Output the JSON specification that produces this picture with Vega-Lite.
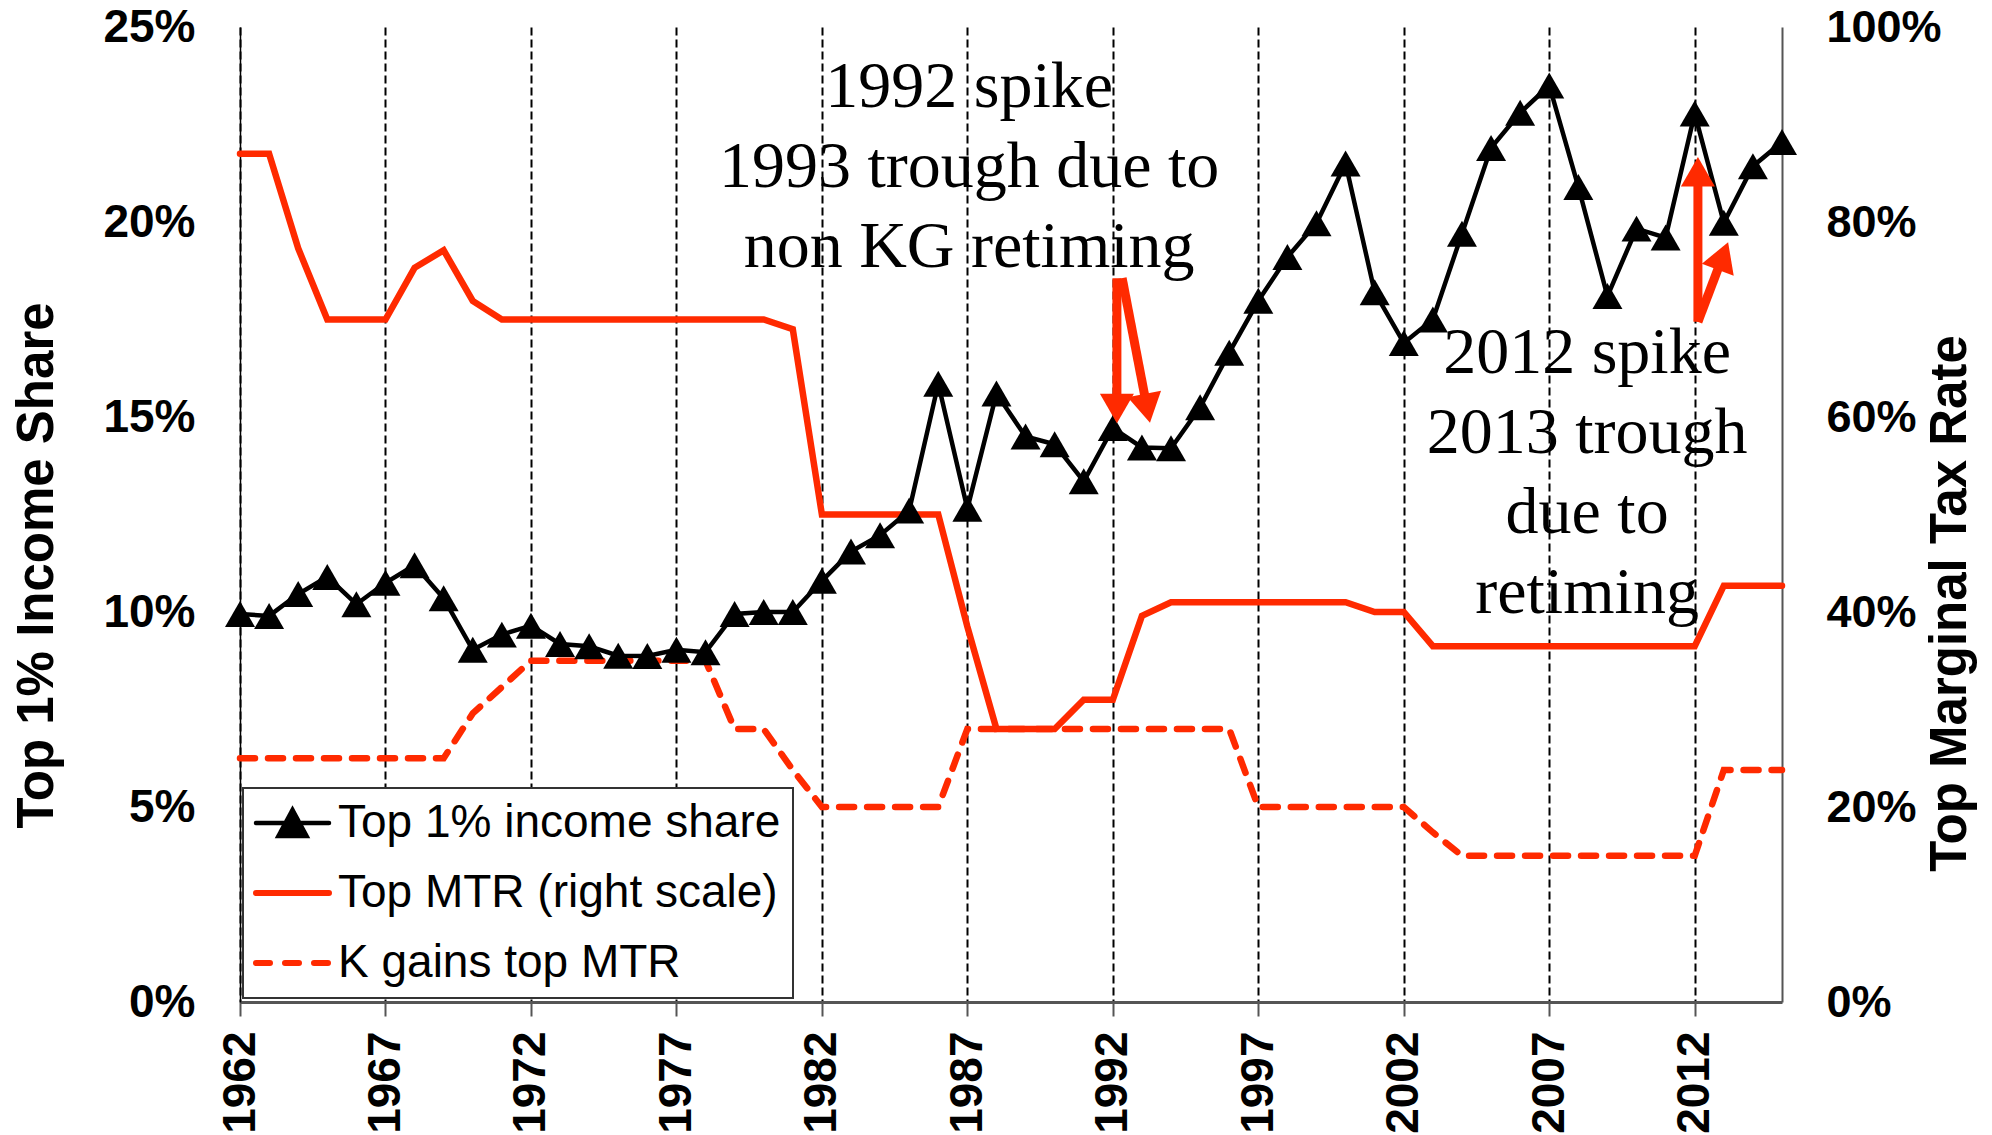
{
  "$schema": "https://vega.github.io/schema/vega-lite/v6.json",
  "width": 1542,
  "height": 975,
  "autosize": {"type": "none"},
  "padding": {"left": 240, "top": 27, "right": 210, "bottom": 133},
  "background": "white",
  "config": {
    "view": {"stroke": null},
    "font": "Liberation Sans",
    "axisBottom": {
      "labelAngle": 270, "labelAlign": "right", "labelBaseline": "middle",
      "labelFont": "Liberation Sans", "labelFontWeight": "bold", "labelFontSize": 46, "labelColor": "#000000",
      "labelPadding": 15, "labelFlush": false, "labelOverlap": false, "labelBound": false,
      "ticks": true, "tickSize": 14, "tickColor": "#555555", "tickWidth": 2,
      "domain": true, "domainColor": "#555555", "domainWidth": 3,
      "grid": true, "gridColor": "#000000", "gridDash": [8, 4], "gridWidth": 2
    },
    "axisLeft": {
      "labelFont": "Liberation Sans", "labelFontWeight": "bold", "labelFontSize": 46, "labelColor": "#000000",
      "labelPadding": 45, "labelFlush": false, "labelOverlap": false, "ticks": false,
      "domain": true, "domainColor": "#000000", "domainWidth": 1.5,
      "grid": true, "gridColor": "#333333", "gridDash": [2, 2], "gridWidth": 1,
      "titleFont": "Liberation Sans", "titleFontWeight": "bold", "titleFontSize": 51, "titleColor": "#000000",
      "titleAngle": 270, "titleAlign": "center", "titleBaseline": "middle", "titleX": -203, "titleY": 538
    },
    "axisRight": {
      "labelFont": "Liberation Sans", "labelFontWeight": "bold", "labelFontSize": 45, "labelColor": "#000000",
      "labelPadding": 44, "labelFlush": false, "labelOverlap": false, "ticks": false,
      "domain": true, "domainColor": "#555555", "domainWidth": 2, "grid": false,
      "titleFont": "Liberation Sans", "titleFontWeight": "bold", "titleFontSize": 51, "titleColor": "#000000",
      "titleAngle": 270, "titleAlign": "center", "titleBaseline": "middle", "titleX": 168, "titleY": 576
    }
  },
  "datasets": {
    "main": [
      {"year": 1962, "share": 9.95, "mtr": 87, "kg": 25},
      {"year": 1963, "share": 9.9, "mtr": 87, "kg": 25},
      {"year": 1964, "share": 10.46, "mtr": 77.3, "kg": 25},
      {"year": 1965, "share": 10.9, "mtr": 70, "kg": 25},
      {"year": 1966, "share": 10.2, "mtr": 70, "kg": 25},
      {"year": 1967, "share": 10.75, "mtr": 70, "kg": 25},
      {"year": 1968, "share": 11.2, "mtr": 75.3, "kg": 25},
      {"year": 1969, "share": 10.35, "mtr": 77.1, "kg": 25},
      {"year": 1970, "share": 9.03, "mtr": 71.9, "kg": 29.6},
      {"year": 1971, "share": 9.42, "mtr": 70, "kg": 32.3},
      {"year": 1972, "share": 9.65, "mtr": 70, "kg": 35},
      {"year": 1973, "share": 9.18, "mtr": 70, "kg": 35},
      {"year": 1974, "share": 9.12, "mtr": 70, "kg": 35},
      {"year": 1975, "share": 8.88, "mtr": 70, "kg": 35},
      {"year": 1976, "share": 8.87, "mtr": 70, "kg": 35},
      {"year": 1977, "share": 9.03, "mtr": 70, "kg": 35},
      {"year": 1978, "share": 8.97, "mtr": 70, "kg": 35},
      {"year": 1979, "share": 9.95, "mtr": 70, "kg": 28},
      {"year": 1980, "share": 10.0, "mtr": 70, "kg": 28},
      {"year": 1981, "share": 10.0, "mtr": 69, "kg": 23.8},
      {"year": 1982, "share": 10.8, "mtr": 50, "kg": 20},
      {"year": 1983, "share": 11.55, "mtr": 50, "kg": 20},
      {"year": 1984, "share": 11.97, "mtr": 50, "kg": 20},
      {"year": 1985, "share": 12.6, "mtr": 50, "kg": 20},
      {"year": 1986, "share": 15.85, "mtr": 50, "kg": 20},
      {"year": 1987, "share": 12.65, "mtr": 38.5, "kg": 28},
      {"year": 1988, "share": 15.6, "mtr": 28, "kg": 28},
      {"year": 1989, "share": 14.5, "mtr": 28, "kg": 28},
      {"year": 1990, "share": 14.3, "mtr": 28, "kg": 28},
      {"year": 1991, "share": 13.35, "mtr": 31, "kg": 28},
      {"year": 1992, "share": 14.72, "mtr": 31, "kg": 28},
      {"year": 1993, "share": 14.22, "mtr": 39.6, "kg": 28},
      {"year": 1994, "share": 14.2, "mtr": 41, "kg": 28},
      {"year": 1995, "share": 15.25, "mtr": 41, "kg": 28},
      {"year": 1996, "share": 16.65, "mtr": 41, "kg": 28},
      {"year": 1997, "share": 17.98, "mtr": 41, "kg": 20},
      {"year": 1998, "share": 19.1, "mtr": 41, "kg": 20},
      {"year": 1999, "share": 19.97, "mtr": 41, "kg": 20},
      {"year": 2000, "share": 21.5, "mtr": 41, "kg": 20},
      {"year": 2001, "share": 18.2, "mtr": 40, "kg": 20},
      {"year": 2002, "share": 16.9, "mtr": 40, "kg": 20},
      {"year": 2003, "share": 17.5, "mtr": 36.5, "kg": 17.4},
      {"year": 2004, "share": 19.7, "mtr": 36.5, "kg": 15},
      {"year": 2005, "share": 21.9, "mtr": 36.5, "kg": 15},
      {"year": 2006, "share": 22.8, "mtr": 36.5, "kg": 15},
      {"year": 2007, "share": 23.5, "mtr": 36.5, "kg": 15},
      {"year": 2008, "share": 20.9, "mtr": 36.5, "kg": 15},
      {"year": 2009, "share": 18.1, "mtr": 36.5, "kg": 15},
      {"year": 2010, "share": 19.83, "mtr": 36.5, "kg": 15},
      {"year": 2011, "share": 19.6, "mtr": 36.5, "kg": 15},
      {"year": 2012, "share": 22.78, "mtr": 36.5, "kg": 15},
      {"year": 2013, "share": 19.98, "mtr": 42.7, "kg": 23.8},
      {"year": 2014, "share": 21.43, "mtr": 42.7, "kg": 23.8},
      {"year": 2015, "share": 22.05, "mtr": 42.7, "kg": 23.8}
    ],
    "arrows": [
      {"id": "a1", "year": 1992.14, "v": 18.56, "year2": 1992.14, "v2": 15.22},
      {"id": "a2", "year": 1992.32, "v": 18.56, "year2": 1993.18, "v2": 15.22},
      {"id": "a3", "year": 2012.11, "v": 17.44, "year2": 2012.11, "v2": 21.29},
      {"id": "a4", "year": 2012.11, "v": 17.44, "year2": 2012.97, "v2": 19.13}
    ],
    "notes": [
      {"year": 1987.06, "v": 23.45, "t": "1992 spike\n1993 trough due to\nnon KG retiming"},
      {"year": 2008.3, "v": 16.64, "t": "2012 spike\n2013 trough\ndue to\nretiming"}
    ]
  },
  "encoding": {
    "x": {
      "field": "year", "type": "quantitative", "title": null,
      "scale": {"domain": [1962, 2015], "nice": false, "zero": false},
      "axis": {"values": [1962, 1967, 1972, 1977, 1982, 1987, 1992, 1997, 2002, 2007, 2012], "format": "d", "orient": "bottom"}
    }
  },
  "layer": [
    {
      "data": {"name": "main"},
      "transform": [{"fold": ["mtr", "kg"], "as": ["series", "v"]}],
      "encoding": {
        "y": {
          "field": "v", "type": "quantitative", "title": "Top Marginal Tax Rate",
          "scale": {"domain": [0, 100], "nice": false, "zero": true},
          "axis": {"orient": "right", "values": [0, 20, 40, 60, 80, 100], "labelExpr": "datum.value + '%'"}
        }
      },
      "layer": [
        {
          "transform": [{"filter": "datum.series === 'mtr'"}],
          "mark": {"type": "line", "strokeWidth": 6.5, "strokeCap": "round"},
          "encoding": {
            "color": {
              "field": "series", "type": "nominal",
              "scale": {"domain": ["share", "mtr", "kg"], "range": ["#000000", "#FF2A00", "#FF2A00"]},
              "legend": {
                "title": null, "orient": "none", "legendX": 3, "legendY": 761, "direction": "vertical",
                "fillColor": "#ffffff", "strokeColor": "#333333",
                "padding": 12, "rowPadding": 24,
                "labelFont": "Liberation Sans", "labelFontSize": 46, "labelColor": "#000000", "labelFontWeight": "normal",
                "labelOffset": 37, "labelLimit": 0,
                "symbolSize": 1600, "symbolStrokeWidth": 6, "symbolType": "stroke",
                "labelExpr": "datum.value === 'share' ? 'Top 1% income share' : datum.value === 'mtr' ? 'Top MTR (right scale)' : 'K gains top MTR'",
                "encode": {
                  "legend": {"update": {"strokeWidth": {"value": 2}}},
                  "symbols": {
                    "update": {
                      "shape": {"signal": "datum.value === 'share' ? 'M-1.1,0H2.55M0.725,-0.65L1.425,0.65L0.025,0.65Z' : 'M-1.1,0H2.55'"},
                      "fill": {"signal": "datum.value === 'share' ? '#000000' : 'transparent'"},
                      "strokeWidth": {"signal": "datum.value === 'share' ? 4.5 : 6"},
                      "strokeDash": {"signal": "datum.value === 'kg' ? [14, 15] : [1, 0]"},
                      "strokeCap": {"value": "round"},
                      "size": {"value": 1600},
                      "opacity": {"value": 1}
                    }
                  }
                }
              }
            }
          }
        },
        {
          "transform": [{"filter": "datum.series === 'kg'"}],
          "mark": {"type": "line", "strokeWidth": 6.5, "strokeDash": [15, 13], "strokeCap": "round"},
          "encoding": {"color": {"field": "series", "type": "nominal"}}
        }
      ]
    },
    {
      "encoding": {
        "y": {
          "field": "v", "type": "quantitative", "title": "Top 1% Income Share",
          "scale": {"domain": [0, 25], "nice": false, "zero": true},
          "axis": {"orient": "left", "values": [0, 5, 10, 15, 20, 25], "labelExpr": "datum.value + '%'"}
        }
      },
      "layer": [
        {
          "data": {"name": "main"},
          "transform": [{"fold": ["share"], "as": ["series", "v"]}],
          "mark": {"type": "line", "strokeWidth": 4.5},
          "encoding": {"color": {"field": "series", "type": "nominal"}}
        },
        {
          "data": {"name": "main"},
          "transform": [{"fold": ["share"], "as": ["series", "v"]}],
          "mark": {"type": "point", "shape": "triangle-up", "filled": true, "color": "#000000", "size": 900, "opacity": 1}
        },
        {
          "data": {"name": "arrows"},
          "mark": {"type": "rule", "color": "#FF2A00", "strokeWidth": 9},
          "encoding": {"x2": {"field": "year2"}, "y2": {"field": "v2"}}
        },
        {
          "data": {"name": "arrows"},
          "transform": [{"filter": "datum.id === 'a1'"}],
          "mark": {"type": "point", "shape": "triangle-up", "filled": true, "color": "#FF2A00", "size": 1156, "opacity": 1, "angle": 180},
          "encoding": {"x": {"field": "year2", "type": "quantitative"}, "y": {"field": "v2", "type": "quantitative"}}
        },
        {
          "data": {"name": "arrows"},
          "transform": [{"filter": "datum.id === 'a2'"}],
          "mark": {"type": "point", "shape": "triangle-up", "filled": true, "color": "#FF2A00", "size": 1156, "opacity": 1, "angle": 169},
          "encoding": {"x": {"field": "year2", "type": "quantitative"}, "y": {"field": "v2", "type": "quantitative"}}
        },
        {
          "data": {"name": "arrows"},
          "transform": [{"filter": "datum.id === 'a3'"}],
          "mark": {"type": "point", "shape": "triangle-up", "filled": true, "color": "#FF2A00", "size": 1156, "opacity": 1, "angle": 0},
          "encoding": {"x": {"field": "year2", "type": "quantitative"}, "y": {"field": "v2", "type": "quantitative"}}
        },
        {
          "data": {"name": "arrows"},
          "transform": [{"filter": "datum.id === 'a4'"}],
          "mark": {"type": "point", "shape": "triangle-up", "filled": true, "color": "#FF2A00", "size": 1156, "opacity": 1, "angle": 20.5},
          "encoding": {"x": {"field": "year2", "type": "quantitative"}, "y": {"field": "v2", "type": "quantitative"}}
        },
        {
          "data": {"name": "notes"},
          "mark": {"type": "text", "font": "Liberation Serif", "fontSize": 66, "lineHeight": 80, "lineBreak": "\n", "align": "center", "baseline": "middle", "color": "#000000"},
          "encoding": {"text": {"field": "t", "type": "nominal"}}
        }
      ]
    }
  ],
  "resolve": {"scale": {"y": "independent"}}
}
